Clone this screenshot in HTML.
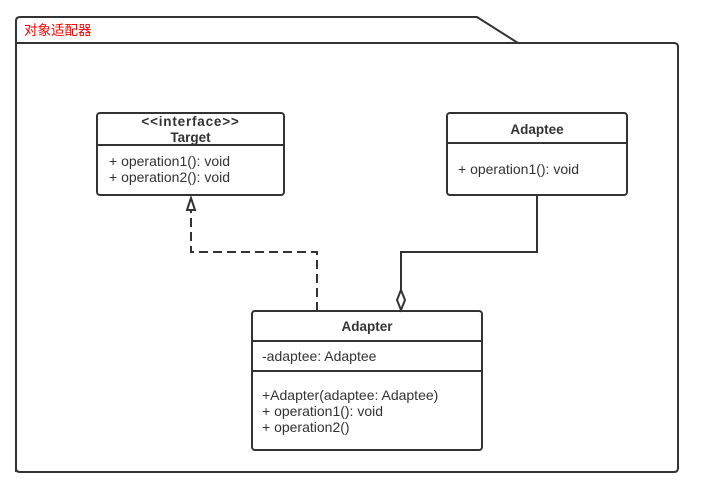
<!DOCTYPE html>
<html><head><meta charset="utf-8"><style>
html,body{margin:0;padding:0;background:#fff;width:701px;height:492px;overflow:hidden}
svg{display:block}
text{font-family:"Liberation Sans","Noto Sans CJK SC",sans-serif;font-size:14px;fill:#333}
.b{font-weight:bold;font-size:13.5px}
</style></head><body>
<svg width="701" height="492" xmlns="http://www.w3.org/2000/svg">
<g fill="none" stroke="#333" stroke-width="2">
<path d="M16 472 L16 21 Q16 17 20 17 L477 17 L518 43 L674 43 Q678 43 678 47 L678 468 Q678 472 674 472 L20 472 Q16 472 16 468"/>
<line x1="16" y1="43" x2="518" y2="43"/>
<rect x="97" y="113" width="187" height="82" rx="3" fill="#fff"/>
<line x1="97" y1="145" x2="284" y2="145"/>
<rect x="447" y="113" width="180" height="82" rx="3" fill="#fff"/>
<line x1="447" y1="143" x2="627" y2="143"/>
<rect x="252" y="311" width="230" height="139" rx="3" fill="#fff"/>
<line x1="252" y1="341" x2="482" y2="341"/>
<line x1="252" y1="371" x2="482" y2="371"/>
<path d="M317 311 L317 252 L191 252 L191 210" stroke-dasharray="9,5"/>
<path d="M187 210 L191 198 L195 210 Z" fill="#fff"/>
<path d="M537 195 L537 252 L401 252 L401 290"/>
<path d="M401 290 L405 300 L401 310 L397 300 Z" fill="#fff"/>
</g>
<text x="24" y="35" style="fill:#f00;font-size:13.5px">对象适配器</text>
<text x="190.5" y="126" text-anchor="middle" class="b" style="letter-spacing:0.8px">&lt;&lt;interface&gt;&gt;</text>
<text x="190.5" y="142" text-anchor="middle" class="b">Target</text>
<text x="109" y="166">+ operation1(): void</text>
<text x="109" y="182">+ operation2(): void</text>
<text x="537" y="134" text-anchor="middle" class="b">Adaptee</text>
<text x="458" y="174">+ operation1(): void</text>
<text x="367" y="331" text-anchor="middle" class="b">Adapter</text>
<text x="262" y="361">-adaptee: Adaptee</text>
<text x="262" y="400">+Adapter(adaptee: Adaptee)</text>
<text x="262" y="416">+ operation1(): void</text>
<text x="262" y="432">+ operation2()</text>
</svg>
</body></html>
